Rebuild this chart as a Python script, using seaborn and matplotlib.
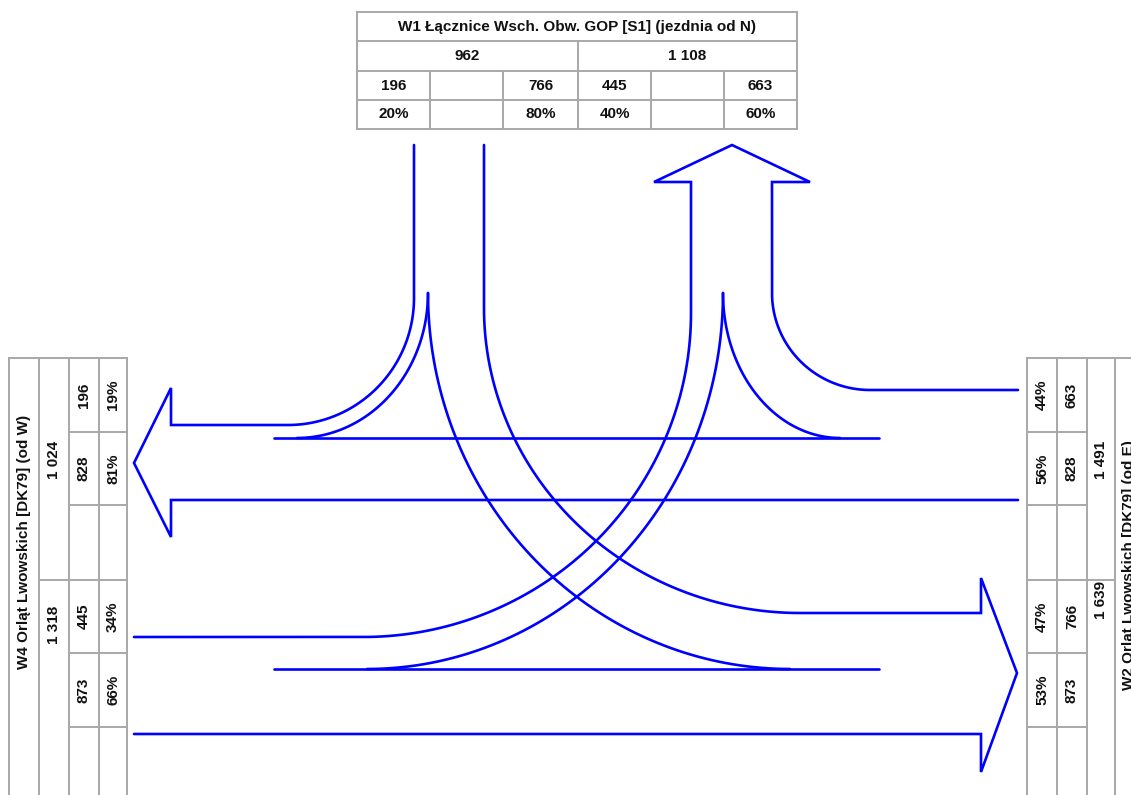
import numpy as np
import matplotlib
matplotlib.use('Agg')
import matplotlib.pyplot as plt
import seaborn as sns
from matplotlib import font_manager

# wlot W1 (od N)
top_title = 'W1 Łącznice Wsch. Obw. GOP [S1] (jezdnia od N)'
top_totals = [962, 1108]
top_volumes = [196, 766, 445, 663]
top_shares = [20, 80, 40, 60]

# wlot W4 (od W)
west_title = 'W4 Orląt Lwowskich [DK79] (od W)'
west_totals = [1024, 1318]
west_volumes = [196, 828, 445, 873]
west_shares = [19, 81, 34, 66]

# wlot W2 (od E)
east_title = 'W2 Orląt Lwowskich [DK79] (od E)'
east_totals = [1491, 1639]
east_volumes = [663, 828, 766, 873]
east_shares = [44, 56, 47, 53]


def fmt(v):
    return f'{v:,}'.replace(',', ' ')


sns.set_theme(style='white')
names = {f.name for f in font_manager.fontManager.ttflist}
if 'Liberation Sans Narrow' in names:
    plt.rcParams['font.family'] = ['Liberation Sans Narrow', 'DejaVu Sans']
    FS = 12
else:
    plt.rcParams['font.family'] = ['Liberation Sans', 'DejaVu Sans']
    FS = 11

BLUE = '#0000ff'
GRID = '#a8a8a8'
INK = '#111111'

fig = plt.figure(figsize=(11.31, 7.95), dpi=100)
ax = fig.add_axes([0, 0, 1, 1])


def arc(x0, y0, x1, y1, n=80):
    # ćwiartka elipsy: start pionowo, koniec poziomo
    t = np.linspace(0, np.pi / 2, n)
    return list(x1 - (x1 - x0) * np.cos(t)), list(y0 + (y1 - y0) * np.sin(t))


def seg(*pts):
    return [p[0] for p in pts], [p[1] for p in pts]


def rev(p):
    return p[0][::-1], p[1][::-1]


def draw(*parts):
    xs, ys = [], []
    for p in parts:
        xs += list(p[0])
        ys += list(p[1])
    sns.lineplot(x=xs, y=ys, sort=False, estimator=None, color=BLUE, lw=1.9,
                 ax=ax, legend=False, solid_joinstyle='miter')


# strumienie
draw(seg((414, 145), (414, 298)), arc(414, 298, 288, 425),
     seg((171, 425), (171, 388), (134, 463), (171, 537), (171, 500), (1018, 500)))
draw(arc(428, 293, 297, 438))
draw(seg((274, 438), (879, 438)))
draw(arc(428, 293, 790, 669))
draw(seg((274, 669), (879, 669)))
draw(seg((484, 145), (484, 308)), arc(484, 308, 800, 613),
     seg((981, 613), (981, 578), (1017, 673), (981, 772), (981, 734), (134, 734)))
draw(seg((134, 637), (363, 637)), rev(arc(691, 313, 363, 637)),
     seg((691, 182), (654, 182), (732, 145), (810, 182), (772, 182), (772, 293)),
     arc(772, 293, 870, 390), seg((1018, 390)))
draw(arc(723, 293, 367, 669))
draw(arc(723, 293, 840, 438))


def hl(y, x0, x1):
    ax.plot([x0, x1], [y, y], color=GRID, lw=1.4, solid_capstyle='projecting')


def vl(x, y0, y1):
    ax.plot([x, x], [y0, y1], color=GRID, lw=1.4, solid_capstyle='projecting')


def txt(x, y, s, rot=0):
    ax.text(x, y, s, ha='center', va='center', rotation=rot, fontsize=FS,
            fontweight='bold', color=INK)


# tabela górna
tx = [357, 430, 503, 578, 651, 724, 797]
for y in [12, 41, 71, 100, 129]:
    hl(y, tx[0], tx[-1])
vl(tx[0], 12, 129)
vl(tx[-1], 12, 129)
vl(tx[3], 41, 129)
for x in [tx[1], tx[2], tx[4], tx[5]]:
    vl(x, 71, 129)
txt(577, 27, top_title)
txt((tx[0] + tx[3]) / 2, 56, fmt(top_totals[0]))
txt((tx[3] + tx[6]) / 2, 56, fmt(top_totals[1]))
for i, c in enumerate([0, 2, 3, 5]):
    xc = (tx[c] + tx[c + 1]) / 2
    txt(xc, 85.5, fmt(top_volumes[i]))
    txt(xc, 114.5, f'{top_shares[i]}%')

rows = [358, 432, 505, 580, 653, 727]
cells = [0, 1, 3, 4]

# tabela lewa
lx = [9, 39, 69, 99, 127]
hl(358, lx[0], lx[-1])
for x in lx:
    vl(x, 358, 800)
for y in rows[1:]:
    hl(y, lx[2], lx[4])
hl(580, lx[1], lx[2])
txt(24, 542, west_title, 90)
txt(54, 460, fmt(west_totals[0]), 90)
txt(54, 625, fmt(west_totals[1]), 90)
for i, r in enumerate(cells):
    yc = (rows[r] + rows[r + 1]) / 2
    txt(84, yc, fmt(west_volumes[i]), 90)
    txt(113, yc, f'{west_shares[i]}%', 90)

# tabela prawa
rx = [1027, 1057, 1087, 1115]
hl(358, rx[0], 1135)
for x in rx:
    vl(x, 358, 800)
for y in rows[1:]:
    hl(y, rx[0], rx[2])
hl(580, rx[2], rx[3])
txt(1129, 565, east_title, 90)
txt(1101, 460, fmt(east_totals[0]), 90)
txt(1101, 600, fmt(east_totals[1]), 90)
for i, r in enumerate(cells):
    yc = (rows[r] + rows[r + 1]) / 2
    txt(1042, yc, f'{east_shares[i]}%', 90)
    txt(1072, yc, fmt(east_volumes[i]), 90)

ax.set_xlim(0, 1131)
ax.set_ylim(795, 0)
ax.axis('off')
fig.savefig('out.png', dpi=100, facecolor='white')
